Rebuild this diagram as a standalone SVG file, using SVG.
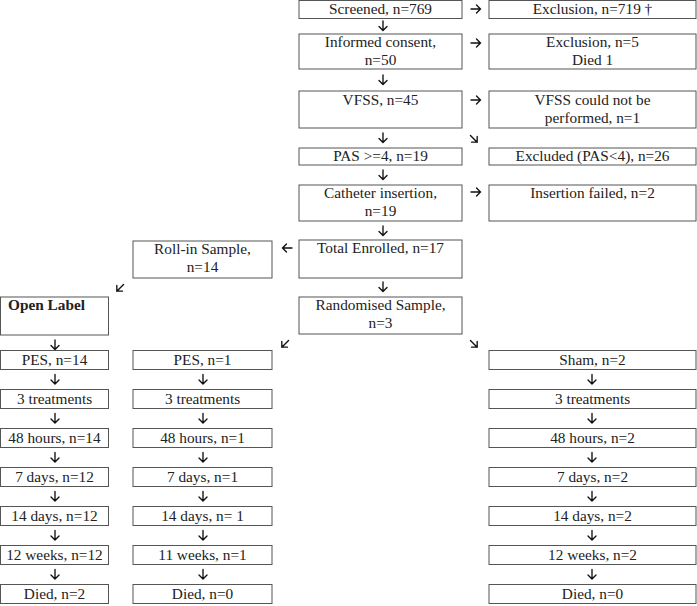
<svg xmlns="http://www.w3.org/2000/svg" width="697" height="606" viewBox="0 0 697 606">
<style>
.box{fill:#fff;stroke:#555;stroke-width:1}
.t{font-family:"Liberation Serif","Times New Roman",serif;font-size:15.3px;fill:#222;text-anchor:middle}
.b{font-weight:bold;text-anchor:start}
.arr{fill:none;stroke:#111;stroke-width:1.35;stroke-linecap:round;stroke-linejoin:miter}
</style>
<defs>
<path id="a" class="arr" d="M0,-5 V4.5 M-4,0.5 L0,4.5 L4,0.5"/>
</defs>
<rect width="697" height="606" fill="#fff"/>
<g id="screened"><rect class="box" x="299" y="0.5" width="163" height="18"/><text class="t" x="380.5" y="14">Screened, n=769</text></g>
<g id="exclusion1"><rect class="box" x="489" y="0.5" width="207" height="18"/><text class="t" x="592.5" y="14">Exclusion, n=719 †</text></g>
<g id="consent"><rect class="box" x="299" y="34" width="163" height="35"/><text class="t" x="380.5" y="47">Informed consent,</text><text class="t" x="380.5" y="65">n=50</text></g>
<g id="exclusion2"><rect class="box" x="489" y="34" width="207" height="35"/><text class="t" x="592.5" y="47">Exclusion, n=5</text><text class="t" x="592.5" y="65">Died 1</text></g>
<g id="vfss"><rect class="box" x="299" y="91" width="163" height="37"/><text class="t" x="380.5" y="105">VFSS, n=45</text></g>
<g id="vfssfail"><rect class="box" x="489" y="91" width="207" height="37"/><text class="t" x="592.5" y="105">VFSS could not be</text><text class="t" x="592.5" y="123">performed, n=1</text></g>
<g id="pas"><rect class="box" x="299" y="148" width="163" height="17"/><text class="t" x="380.5" y="161">PAS &gt;=4, n=19</text></g>
<g id="excluded"><rect class="box" x="489" y="148" width="207" height="17"/><text class="t" x="592.5" y="161">Excluded (PAS&lt;4), n=26</text></g>
<g id="catheter"><rect class="box" x="299" y="185" width="163" height="36"/><text class="t" x="380.5" y="198">Catheter insertion,</text><text class="t" x="380.5" y="216">n=19</text></g>
<g id="insfail"><rect class="box" x="489" y="185" width="207" height="36"/><text class="t" x="592.5" y="198">Insertion failed, n=2</text></g>
<g id="total"><rect class="box" x="299" y="240" width="163" height="38"/><text class="t" x="380.5" y="253">Total Enrolled, n=17</text></g>
<g id="rollin"><rect class="box" x="133" y="241" width="139" height="37"/><text class="t" x="202.5" y="254">Roll-in Sample,</text><text class="t" x="202.5" y="272">n=14</text></g>
<g id="openlabel"><rect class="box" x="0.5" y="297" width="108" height="38"/><text class="t b" x="8" y="310">Open Label</text></g>
<g id="randomised"><rect class="box" x="299" y="297" width="163" height="37"/><text class="t" x="380.5" y="310">Randomised Sample,</text><text class="t" x="380.5" y="328">n=3</text></g>

<g id="left-col">
<rect class="box" x="0.5" y="350.5" width="108" height="19"/><text class="t" x="54.5" y="365">PES, n=14</text>
<rect class="box" x="0.5" y="389.5" width="108" height="19"/><text class="t" x="54.5" y="404">3 treatments</text>
<rect class="box" x="0.5" y="428.5" width="108" height="19"/><text class="t" x="54.5" y="443">48 hours, n=14</text>
<rect class="box" x="0.5" y="467.5" width="108" height="19"/><text class="t" x="54.5" y="482">7 days, n=12</text>
<rect class="box" x="0.5" y="506.5" width="108" height="19"/><text class="t" x="54.5" y="521">14 days, n=12</text>
<rect class="box" x="0.5" y="545.5" width="108" height="19"/><text class="t" x="54.5" y="560">12 weeks, n=12</text>
<rect class="box" x="0.5" y="584.5" width="108" height="19"/><text class="t" x="54.5" y="599">Died, n=2</text>
</g>
<g id="mid-col">
<rect class="box" x="133" y="350.5" width="139" height="19"/><text class="t" x="202.5" y="365">PES, n=1</text>
<rect class="box" x="133" y="389.5" width="139" height="19"/><text class="t" x="202.5" y="404">3 treatments</text>
<rect class="box" x="133" y="428.5" width="139" height="19"/><text class="t" x="202.5" y="443">48 hours, n=1</text>
<rect class="box" x="133" y="467.5" width="139" height="19"/><text class="t" x="202.5" y="482">7 days, n=1</text>
<rect class="box" x="133" y="506.5" width="139" height="19"/><text class="t" x="202.5" y="521">14 days, n= 1</text>
<rect class="box" x="133" y="545.5" width="139" height="19"/><text class="t" x="202.5" y="560">11 weeks, n=1</text>
<rect class="box" x="133" y="584.5" width="139" height="19"/><text class="t" x="202.5" y="599">Died, n=0</text>
</g>
<g id="right-col">
<rect class="box" x="489" y="350.5" width="207" height="19"/><text class="t" x="592.5" y="365">Sham, n=2</text>
<rect class="box" x="489" y="389.5" width="207" height="19"/><text class="t" x="592.5" y="404">3 treatments</text>
<rect class="box" x="489" y="428.5" width="207" height="19"/><text class="t" x="592.5" y="443">48 hours, n=2</text>
<rect class="box" x="489" y="467.5" width="207" height="19"/><text class="t" x="592.5" y="482">7 days, n=2</text>
<rect class="box" x="489" y="506.5" width="207" height="19"/><text class="t" x="592.5" y="521">14 days, n=2</text>
<rect class="box" x="489" y="545.5" width="207" height="19"/><text class="t" x="592.5" y="560">12 weeks, n=2</text>
<rect class="box" x="489" y="584.5" width="207" height="19"/><text class="t" x="592.5" y="599">Died, n=0</text>
</g>

<g id="connectors">
<use href="#a" transform="translate(383,26)"/>
<use href="#a" transform="translate(383,80)"/>
<use href="#a" transform="translate(383,138)"/>
<use href="#a" transform="translate(383,175)"/>
<use href="#a" transform="translate(383,231)"/>
<use href="#a" transform="translate(383,287)"/>
<use href="#a" transform="translate(476,9) rotate(-90)"/>
<use href="#a" transform="translate(476,43) rotate(-90)"/>
<use href="#a" transform="translate(476,100) rotate(-90)"/>
<use href="#a" transform="translate(476,192) rotate(-90)"/>
<use href="#a" transform="translate(474,139) rotate(-45)"/>
<use href="#a" transform="translate(287,248) rotate(90)"/>
<use href="#a" transform="translate(120,288) rotate(45)"/>
<use href="#a" transform="translate(285,344) rotate(45)"/>
<use href="#a" transform="translate(474,344) rotate(-45)"/>
<use href="#a" transform="translate(55,345)"/>
<use href="#a" transform="translate(55,379.5)"/><use href="#a" transform="translate(203,379.5)"/><use href="#a" transform="translate(592,379.5)"/>
<use href="#a" transform="translate(55,418.5)"/><use href="#a" transform="translate(203,418.5)"/><use href="#a" transform="translate(592,418.5)"/>
<use href="#a" transform="translate(55,457.5)"/><use href="#a" transform="translate(203,457.5)"/><use href="#a" transform="translate(592,457.5)"/>
<use href="#a" transform="translate(55,496.5)"/><use href="#a" transform="translate(203,496.5)"/><use href="#a" transform="translate(592,496.5)"/>
<use href="#a" transform="translate(55,535.5)"/><use href="#a" transform="translate(203,535.5)"/><use href="#a" transform="translate(592,535.5)"/>
<use href="#a" transform="translate(55,574.5)"/><use href="#a" transform="translate(203,574.5)"/><use href="#a" transform="translate(592,574.5)"/>
</g>
</svg>
